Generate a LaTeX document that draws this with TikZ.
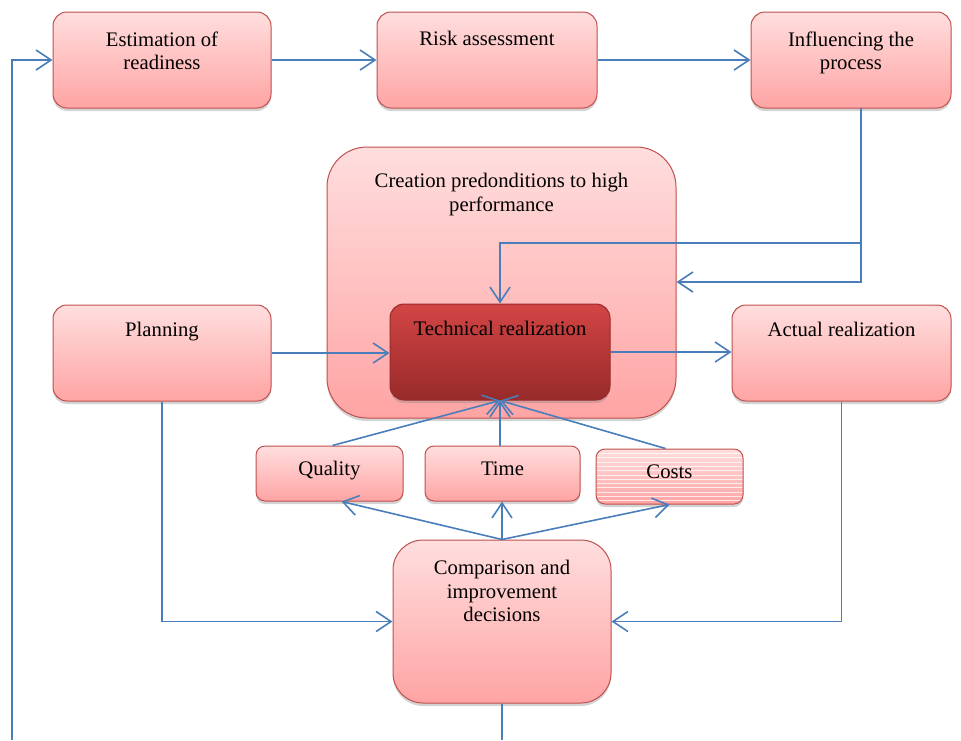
\documentclass[tikz,border=0pt]{standalone}
\usepackage{fontspec}
\setmainfont{Liberation Serif}
\usetikzlibrary{arrows.meta,shadows,calc}
\definecolor{pinktop}{HTML}{FFDEDE}
\definecolor{pinkbot}{HTML}{FFA4A4}
\definecolor{boxborder}{HTML}{C0504D}
\definecolor{darktop}{HTML}{D34545}
\definecolor{darkbot}{HTML}{982A2A}
\definecolor{linec}{HTML}{4A7EBB}
\begin{document}
\begin{tikzpicture}[x=1pt,y=-1pt,
  box/.style={draw=boxborder, line width=1pt, rounded corners=14pt,
    top color=pinktop, bottom color=pinkbot, inner sep=0pt,
    drop shadow={shadow xshift=0pt, shadow yshift=-3pt, opacity=0.35}},
  darkbox/.style={box, top color=darktop, bottom color=darkbot, draw=darkbot},
  txt/.style={align=center, font=\fontsize{20.7}{23.5}\selectfont, inner sep=0pt, anchor=base},
  conn/.style={draw=linec, line width=1.6pt},
  arr/.style={conn, -{Straight Barb[length=15pt,width=20pt]}}
]
\useasboundingbox (0,0) rectangle (961,740);

% top row
\node[box, minimum width=218pt, minimum height=96pt] (e) at (162,60) {};
\node[txt] (et) at ([yshift=-58pt]e.north) {Estimation of\\readiness};
\node[box, minimum width=220pt, minimum height=96pt] (r) at (487,60) {};
\node[txt] (rt) at ([yshift=-34pt]r.north) {Risk assessment};
\node[box, minimum width=200pt, minimum height=96pt] (inf) at (851,60) {};
\node[txt] (inft) at ([yshift=-58pt]inf.north) {Influencing the\\process};

% creation box
\node[box, rounded corners=40pt, minimum width=349pt, minimum height=271pt] (cr) at (501.5,282.5) {};
\node[txt] (crt) at ([yshift=-64.5pt]cr.north) {Creation predonditions to high\\performance};

% middle row
\node[box, minimum width=218pt, minimum height=96pt] (pl) at (162,353) {};
\node[txt] (plt) at ([yshift=-32pt]pl.north) {Planning};
\node[darkbox, minimum width=220pt, minimum height=96pt] (tr) at (500,352) {};
\node[txt] (trt) at ([yshift=-32pt]tr.north) {Technical realization};
\node[box, minimum width=219pt, minimum height=96pt] (ar) at (841.5,353) {};
\node[txt] (art) at ([yshift=-32pt]ar.north) {Actual realization};

% small boxes
\node[box, rounded corners=9pt, minimum width=147pt, minimum height=55pt] (q) at (329.5,473.5) {};
\node[txt] (qt) at ([yshift=-30pt]q.north) {Quality};
\node[box, rounded corners=9pt, minimum width=155pt, minimum height=55pt] (ti) at (502.5,473.5) {};
\node[txt] (tit) at ([yshift=-30pt]ti.north) {Time};
\node[box, rounded corners=9pt, minimum width=147pt, minimum height=55pt,
  path picture={\foreach \k in {1,...,12}{\draw[white,line width=0.6pt,opacity=0.75]
    ($(path picture bounding box.north west)+(0,\k*4.3)$) -- ++(160,0);}}] (co) at (669.5,476.5) {};
\node[txt] (cot) at ([yshift=-30pt]co.north) {Costs};

% comparison
\node[box, rounded corners=30pt, minimum width=218pt, minimum height=163pt] (cmp) at (502,621.5) {};
\node[txt] (cmpt) at ([yshift=-82pt]cmp.north) {Comparison and\\improvement\\decisions};

% connectors
\coordinate (lb) at (12,740);
\coordinate (cb) at (502,740);
\coordinate (is) at (861,108);
\coordinate (j1) at (861,243);
\coordinate (j2) at (861,282);

\draw[arr] (lb) |- (e.west);
\draw[arr] (e.east) -- (r.west);
\draw[arr] (r.east) -- (inf.west);
\draw[arr] (is) |- (cr.east |- j2);
\draw[arr] (j1) -| (tr.north);
\draw[arr] (pl.east) -- (pl.east -| tr.west);
\draw[arr] (tr.east) -- (tr.east -| ar.west);
\draw[arr] ([xshift=3pt]q.north) -- (tr.south);
\draw[arr] (tr.south |- ti.north) -- (tr.south);
\draw[arr] ([xshift=-4pt]co.north) -- (tr.south);
\draw[arr] (cmp.north) -- ([xshift=12pt]q.south);
\draw[arr] (cmp.north) -- (cmp.north |- ti.south);
\draw[arr] (cmp.north) -- (co.south);
\draw[arr] (pl.south) |- (cmp.west);
\draw[arr] (ar.south) |- (cmp.east);
\draw[conn] (cmp.south) -- (cb);
\end{tikzpicture}
\end{document}
